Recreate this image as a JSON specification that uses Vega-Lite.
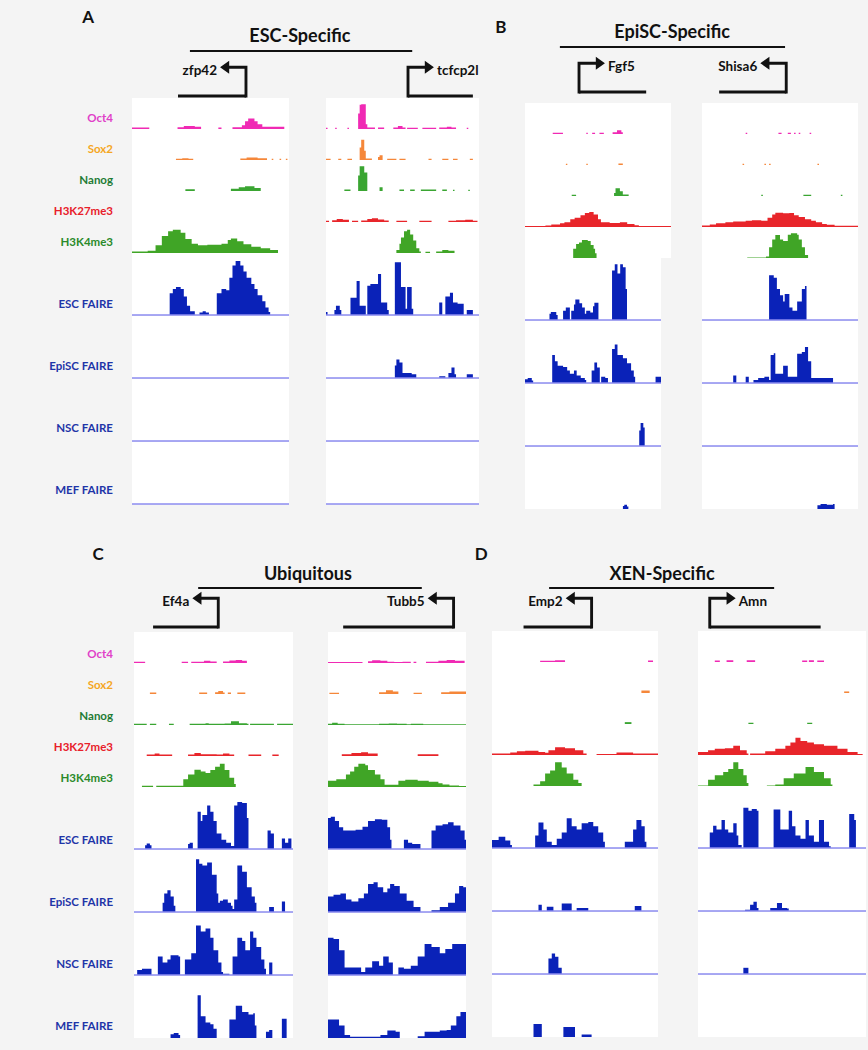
{
"$schema": "https://vega.github.io/schema/vega-lite/v6.json",
"background": "#f4f4f4",
"padding": {"left": 0, "top": 0, "right": 10, "bottom": 26},
"config": {"view": {"stroke": null}, "axis": {"disable": true}, "legend": {"disable": true}, "text": {"font": "Lato", "fontWeight": "bold", "color": "#111111"}, "concat": {"spacing": 0}, "facet": {"spacing": 0}},
"datasets": {
"labels": [{"t":"Oct4","name":"Oct4","grp":"chip"},{"t":"Sox2","name":"Sox2","grp":"chip"},{"t":"Nanog","name":"Nanog","grp":"chip"},{"t":"K27","name":"H3K27me3","grp":"chip"},{"t":"K4","name":"H3K4me3","grp":"chip"},{"t":"E","name":"ESC FAIRE","grp":"faire"},{"t":"Ep","name":"EpiSC FAIRE","grp":"faire"},{"t":"N","name":"NSC FAIRE","grp":"faire"},{"t":"M","name":"MEF FAIRE","grp":"faire"}],
"genes": [{"g":"zfp42","tss":72.6,"far":29.3,"str":"-"},{"g":"tcfcp2l","tss":53.6,"far":96,"str":"+"},{"g":"Fgf5","tss":37,"far":83,"str":"+"},{"g":"Shisa6","tss":54,"far":11,"str":"-"},{"g":"Ef4a","tss":53,"far":12,"str":"-"},{"g":"Tubb5","tss":91,"far":11,"str":"-"},{"g":"Emp2","tss":60,"far":19,"str":"-"},{"g":"Amn","tss":7,"far":73,"str":"+"}],
"zfp42": [
{"t":"Oct4","x":0,"v":0.05},{"t":"Oct4","x":11,"v":0},{"t":"Oct4","x":29,"v":0.06},{"t":"Oct4","x":33,"v":0.1},{"t":"Oct4","x":40,"v":0.07},{"t":"Oct4","x":44,"v":0},{"t":"Oct4","x":55,"v":0.05},{"t":"Oct4","x":57,"v":0},{"t":"Oct4","x":64,"v":0.06},{"t":"Oct4","x":70,"v":0.12},{"t":"Oct4","x":72,"v":0.25},{"t":"Oct4","x":74,"v":0.34},{"t":"Oct4","x":78,"v":0.25},{"t":"Oct4","x":80,"v":0.15},{"t":"Oct4","x":83,"v":0.07},{"t":"Oct4","x":97,"v":0},
{"t":"Sox2","x":28,"v":0.04},{"t":"Sox2","x":32,"v":0.06},{"t":"Sox2","x":36,"v":0.04},{"t":"Sox2","x":39,"v":0},{"t":"Sox2","x":69,"v":0.05},{"t":"Sox2","x":73,"v":0.08},{"t":"Sox2","x":80,"v":0.06},{"t":"Sox2","x":86,"v":0},{"t":"Sox2","x":89,"v":0.04},{"t":"Sox2","x":90,"v":0},{"t":"Sox2","x":94,"v":0.04},{"t":"Sox2","x":95,"v":0},{"t":"Sox2","x":98,"v":0.04},{"t":"Sox2","x":99,"v":0},
{"t":"Nanog","x":34,"v":0.06},{"t":"Nanog","x":40,"v":0},{"t":"Nanog","x":63,"v":0.07},{"t":"Nanog","x":68,"v":0.12},{"t":"Nanog","x":72,"v":0.15},{"t":"Nanog","x":78,"v":0.1},{"t":"Nanog","x":82,"v":0},
{"t":"K27","x":0,"v":0},
{"t":"K4","x":0,"v":0.05},{"t":"K4","x":10,"v":0.07},{"t":"K4","x":15,"v":0.25},{"t":"K4","x":19,"v":0.55},{"t":"K4","x":23,"v":0.7},{"t":"K4","x":26,"v":0.75},{"t":"K4","x":31,"v":0.65},{"t":"K4","x":34,"v":0.45},{"t":"K4","x":38,"v":0.3},{"t":"K4","x":42,"v":0.25},{"t":"K4","x":48,"v":0.27},{"t":"K4","x":57,"v":0.3},{"t":"K4","x":61,"v":0.42},{"t":"K4","x":63,"v":0.47},{"t":"K4","x":67,"v":0.38},{"t":"K4","x":71,"v":0.28},{"t":"K4","x":76,"v":0.2},{"t":"K4","x":82,"v":0.15},{"t":"K4","x":88,"v":0.1},{"t":"K4","x":93,"v":0},
{"t":"E","x":24,"v":0.35},{"t":"E","x":26,"v":0.42},{"t":"E","x":28,"v":0.45},{"t":"E","x":31,"v":0.42},{"t":"E","x":33,"v":0.3},{"t":"E","x":35,"v":0.15},{"t":"E","x":37,"v":0.06},{"t":"E","x":40,"v":0},{"t":"E","x":43,"v":0.04},{"t":"E","x":45,"v":0.06},{"t":"E","x":47,"v":0.04},{"t":"E","x":49,"v":0},{"t":"E","x":54,"v":0.35},{"t":"E","x":57,"v":0.42},{"t":"E","x":60,"v":0.4},{"t":"E","x":62,"v":0.6},{"t":"E","x":64,"v":0.8},{"t":"E","x":66,"v":0.87},{"t":"E","x":69,"v":0.8},{"t":"E","x":71,"v":0.7},{"t":"E","x":73,"v":0.6},{"t":"E","x":76,"v":0.5},{"t":"E","x":78,"v":0.42},{"t":"E","x":80,"v":0.32},{"t":"E","x":83,"v":0.22},{"t":"E","x":85,"v":0.12},{"t":"E","x":87,"v":0.05},{"t":"E","x":88,"v":0},
{"t":"E","b":1},{"t":"Ep","b":1},{"t":"N","b":1},{"t":"M","b":1}
],
"tcfcp2l": [
{"t":"Oct4","x":0,"v":0.04},{"t":"Oct4","x":1,"v":0},{"t":"Oct4","x":6,"v":0.04},{"t":"Oct4","x":7,"v":0},{"t":"Oct4","x":14,"v":0.04},{"t":"Oct4","x":15,"v":0},{"t":"Oct4","x":21,"v":0.5},{"t":"Oct4","x":22,"v":0.78},{"t":"Oct4","x":23,"v":0.8},{"t":"Oct4","x":26,"v":0.15},{"t":"Oct4","x":27,"v":0.05},{"t":"Oct4","x":32,"v":0},{"t":"Oct4","x":34,"v":0.05},{"t":"Oct4","x":38,"v":0},{"t":"Oct4","x":44,"v":0.05},{"t":"Oct4","x":47,"v":0.1},{"t":"Oct4","x":50,"v":0.05},{"t":"Oct4","x":52,"v":0},{"t":"Oct4","x":53,"v":0.04},{"t":"Oct4","x":60,"v":0},{"t":"Oct4","x":63,"v":0.04},{"t":"Oct4","x":72,"v":0},{"t":"Oct4","x":74,"v":0.05},{"t":"Oct4","x":79,"v":0.07},{"t":"Oct4","x":82,"v":0.05},{"t":"Oct4","x":85,"v":0},{"t":"Oct4","x":92,"v":0.04},{"t":"Oct4","x":93,"v":0},
{"t":"Sox2","x":0,"v":0.04},{"t":"Sox2","x":3,"v":0},{"t":"Sox2","x":8,"v":0.04},{"t":"Sox2","x":10,"v":0},{"t":"Sox2","x":14,"v":0.04},{"t":"Sox2","x":17,"v":0},{"t":"Sox2","x":22,"v":0.4},{"t":"Sox2","x":23,"v":0.65},{"t":"Sox2","x":25,"v":0.3},{"t":"Sox2","x":26,"v":0.05},{"t":"Sox2","x":30,"v":0},{"t":"Sox2","x":34,"v":0.1},{"t":"Sox2","x":35,"v":0.15},{"t":"Sox2","x":37,"v":0},{"t":"Sox2","x":40,"v":0.04},{"t":"Sox2","x":46,"v":0},{"t":"Sox2","x":48,"v":0.04},{"t":"Sox2","x":52,"v":0},{"t":"Sox2","x":67,"v":0.04},{"t":"Sox2","x":69,"v":0},{"t":"Sox2","x":76,"v":0.04},{"t":"Sox2","x":80,"v":0},{"t":"Sox2","x":83,"v":0.04},{"t":"Sox2","x":86,"v":0},{"t":"Sox2","x":94,"v":0.04},{"t":"Sox2","x":96,"v":0},
{"t":"Nanog","x":12,"v":0.05},{"t":"Nanog","x":16,"v":0},{"t":"Nanog","x":21,"v":0.5},{"t":"Nanog","x":22,"v":0.8},{"t":"Nanog","x":25,"v":0.6},{"t":"Nanog","x":27,"v":0},{"t":"Nanog","x":35,"v":0.12},{"t":"Nanog","x":37,"v":0},{"t":"Nanog","x":48,"v":0.05},{"t":"Nanog","x":51,"v":0},{"t":"Nanog","x":55,"v":0.05},{"t":"Nanog","x":58,"v":0},{"t":"Nanog","x":62,"v":0.05},{"t":"Nanog","x":72,"v":0},{"t":"Nanog","x":76,"v":0.05},{"t":"Nanog","x":79,"v":0},{"t":"Nanog","x":83,"v":0.04},{"t":"Nanog","x":84,"v":0},{"t":"Nanog","x":93,"v":0.04},{"t":"Nanog","x":94,"v":0},
{"t":"K27","x":0,"v":0.04},{"t":"K27","x":2,"v":0},{"t":"K27","x":4,"v":0.06},{"t":"K27","x":7,"v":0.1},{"t":"K27","x":11,"v":0.07},{"t":"K27","x":15,"v":0},{"t":"K27","x":17,"v":0.04},{"t":"K27","x":21,"v":0},{"t":"K27","x":23,"v":0.05},{"t":"K27","x":27,"v":0.1},{"t":"K27","x":30,"v":0.12},{"t":"K27","x":34,"v":0.08},{"t":"K27","x":38,"v":0.05},{"t":"K27","x":41,"v":0},{"t":"K27","x":46,"v":0.04},{"t":"K27","x":53,"v":0},{"t":"K27","x":61,"v":0.04},{"t":"K27","x":69,"v":0},{"t":"K27","x":80,"v":0.04},{"t":"K27","x":85,"v":0.06},{"t":"K27","x":91,"v":0.07},{"t":"K27","x":96,"v":0.04},{"t":"K27","x":99,"v":0},
{"t":"K4","x":46,"v":0.1},{"t":"K4","x":48,"v":0.3},{"t":"K4","x":49,"v":0.5},{"t":"K4","x":51,"v":0.7},{"t":"K4","x":53,"v":0.75},{"t":"K4","x":55,"v":0.6},{"t":"K4","x":57,"v":0.4},{"t":"K4","x":59,"v":0.15},{"t":"K4","x":61,"v":0.05},{"t":"K4","x":62,"v":0},{"t":"K4","x":65,"v":0.04},{"t":"K4","x":68,"v":0},{"t":"K4","x":72,"v":0.05},{"t":"K4","x":76,"v":0.1},{"t":"K4","x":80,"v":0.07},{"t":"K4","x":84,"v":0},
{"t":"E","x":0,"v":0.05},{"t":"E","x":1,"v":0},{"t":"E","x":5.5,"v":0.08},{"t":"E","x":6.5,"v":0.15},{"t":"E","x":9,"v":0.08},{"t":"E","x":10,"v":0},{"t":"E","x":16,"v":0.28},{"t":"E","x":20,"v":0.55},{"t":"E","x":22,"v":0.15},{"t":"E","x":26,"v":0},{"t":"E","x":27,"v":0.47},{"t":"E","x":29,"v":0.5},{"t":"E","x":34,"v":0.66},{"t":"E","x":36,"v":0.2},{"t":"E","x":40,"v":0.08},{"t":"E","x":41,"v":0},{"t":"E","x":45,"v":0.85},{"t":"E","x":49,"v":0.45},{"t":"E","x":52,"v":0.1},{"t":"E","x":53,"v":0.45},{"t":"E","x":56,"v":0.1},{"t":"E","x":57,"v":0},{"t":"E","x":74,"v":0.2},{"t":"E","x":76,"v":0},{"t":"E","x":78,"v":0.3},{"t":"E","x":81,"v":0.36},{"t":"E","x":83,"v":0.2},{"t":"E","x":86,"v":0.18},{"t":"E","x":90,"v":0},{"t":"E","x":92,"v":0.08},{"t":"E","x":96,"v":0},
{"t":"Ep","x":45,"v":0.2},{"t":"Ep","x":46,"v":0.3},{"t":"Ep","x":48,"v":0.25},{"t":"Ep","x":50,"v":0.08},{"t":"Ep","x":56,"v":0.06},{"t":"Ep","x":59,"v":0},{"t":"Ep","x":74,"v":0.03},{"t":"Ep","x":78,"v":0},{"t":"Ep","x":80,"v":0.08},{"t":"Ep","x":82,"v":0.17},{"t":"Ep","x":84,"v":0.06},{"t":"Ep","x":85,"v":0},{"t":"Ep","x":92,"v":0.06},{"t":"Ep","x":96,"v":0},
{"t":"E","b":1},{"t":"Ep","b":1},{"t":"N","b":1},{"t":"M","b":1}
],
"Fgf5": [
{"t":"Oct4","x":19,"v":0.04},{"t":"Oct4","x":26,"v":0},{"t":"Oct4","x":42,"v":0.04},{"t":"Oct4","x":43,"v":0},{"t":"Oct4","x":46,"v":0.04},{"t":"Oct4","x":48,"v":0},{"t":"Oct4","x":51,"v":0.04},{"t":"Oct4","x":54,"v":0},{"t":"Oct4","x":60,"v":0.06},{"t":"Oct4","x":63,"v":0.12},{"t":"Oct4","x":66,"v":0.06},{"t":"Oct4","x":67,"v":0},
{"t":"Sox2","x":28,"v":0.04},{"t":"Sox2","x":29,"v":0},{"t":"Sox2","x":42,"v":0.04},{"t":"Sox2","x":43,"v":0},{"t":"Sox2","x":64,"v":0.05},{"t":"Sox2","x":67,"v":0},
{"t":"Nanog","x":32,"v":0.04},{"t":"Nanog","x":35,"v":0},{"t":"Nanog","x":61,"v":0.1},{"t":"Nanog","x":62,"v":0.25},{"t":"Nanog","x":65,"v":0.15},{"t":"Nanog","x":67,"v":0.05},{"t":"Nanog","x":71,"v":0},
{"t":"K27","x":0,"v":0.03},{"t":"K27","x":14,"v":0.05},{"t":"K27","x":18,"v":0.08},{"t":"K27","x":24,"v":0.12},{"t":"K27","x":27,"v":0.15},{"t":"K27","x":31,"v":0.25},{"t":"K27","x":34,"v":0.3},{"t":"K27","x":38,"v":0.38},{"t":"K27","x":41,"v":0.45},{"t":"K27","x":44,"v":0.48},{"t":"K27","x":47,"v":0.4},{"t":"K27","x":50,"v":0.25},{"t":"K27","x":52,"v":0.15},{"t":"K27","x":58,"v":0.13},{"t":"K27","x":65,"v":0.15},{"t":"K27","x":70,"v":0.1},{"t":"K27","x":75,"v":0.06},{"t":"K27","x":78,"v":0.03},{"t":"K27","x":100,"v":0},
{"t":"K4","x":33,"v":0.3},{"t":"K4","x":35,"v":0.45},{"t":"K4","x":37,"v":0.5},{"t":"K4","x":39,"v":0.58},{"t":"K4","x":43,"v":0.55},{"t":"K4","x":45,"v":0.42},{"t":"K4","x":47,"v":0.3},{"t":"K4","x":48,"v":0.15},{"t":"K4","x":49,"v":0},
{"t":"E","x":18,"v":0.1},{"t":"E","x":19,"v":0.13},{"t":"E","x":23,"v":0.08},{"t":"E","x":24,"v":0},{"t":"E","x":28,"v":0.15},{"t":"E","x":30,"v":0.2},{"t":"E","x":33,"v":0},{"t":"E","x":34,"v":0.15},{"t":"E","x":36,"v":0.25},{"t":"E","x":37,"v":0.33},{"t":"E","x":40,"v":0.27},{"t":"E","x":42,"v":0.2},{"t":"E","x":44,"v":0.1},{"t":"E","x":45,"v":0.15},{"t":"E","x":48,"v":0.12},{"t":"E","x":50,"v":0.22},{"t":"E","x":51,"v":0.28},{"t":"E","x":54,"v":0},{"t":"E","x":64,"v":0.8},{"t":"E","x":66,"v":0.9},{"t":"E","x":68,"v":0.75},{"t":"E","x":70,"v":0.9},{"t":"E","x":72,"v":0.85},{"t":"E","x":74,"v":0.5},{"t":"E","x":75,"v":0},
{"t":"Ep","x":0,"v":0.06},{"t":"Ep","x":2,"v":0.08},{"t":"Ep","x":5,"v":0.04},{"t":"Ep","x":6,"v":0},{"t":"Ep","x":20,"v":0.45},{"t":"Ep","x":22,"v":0.35},{"t":"Ep","x":24,"v":0.28},{"t":"Ep","x":28,"v":0.26},{"t":"Ep","x":31,"v":0.2},{"t":"Ep","x":33,"v":0.15},{"t":"Ep","x":36,"v":0.2},{"t":"Ep","x":38,"v":0.12},{"t":"Ep","x":41,"v":0.08},{"t":"Ep","x":44,"v":0.05},{"t":"Ep","x":45,"v":0},{"t":"Ep","x":49,"v":0.2},{"t":"Ep","x":51,"v":0.33},{"t":"Ep","x":53,"v":0.25},{"t":"Ep","x":55,"v":0},{"t":"Ep","x":56,"v":0.1},{"t":"Ep","x":59,"v":0.08},{"t":"Ep","x":61,"v":0},{"t":"Ep","x":64,"v":0.55},{"t":"Ep","x":66,"v":0.62},{"t":"Ep","x":68,"v":0.45},{"t":"Ep","x":72,"v":0.4},{"t":"Ep","x":75,"v":0.32},{"t":"Ep","x":78,"v":0.2},{"t":"Ep","x":80,"v":0.1},{"t":"Ep","x":81,"v":0},{"t":"Ep","x":96,"v":0.1},{"t":"Ep","x":100,"v":0},
{"t":"N","x":84,"v":0.25},{"t":"N","x":85,"v":0.37},{"t":"N","x":87,"v":0.3},{"t":"N","x":88,"v":0},
{"t":"M","x":72,"v":0.05},{"t":"M","x":73,"v":0.07},{"t":"M","x":75,"v":0.04},{"t":"M","x":76,"v":0},
{"t":"E","b":1},{"t":"Ep","b":1},{"t":"N","b":1}
],
"Shisa6": [
{"t":"Oct4","x":28,"v":0.04},{"t":"Oct4","x":29,"v":0},{"t":"Oct4","x":49,"v":0.04},{"t":"Oct4","x":51,"v":0},{"t":"Oct4","x":55,"v":0.04},{"t":"Oct4","x":57,"v":0},{"t":"Oct4","x":59,"v":0.04},{"t":"Oct4","x":60,"v":0},{"t":"Oct4","x":62,"v":0.04},{"t":"Oct4","x":63,"v":0},{"t":"Oct4","x":69,"v":0.04},{"t":"Oct4","x":70,"v":0},
{"t":"Sox2","x":26,"v":0.04},{"t":"Sox2","x":27,"v":0},{"t":"Sox2","x":40,"v":0.04},{"t":"Sox2","x":41,"v":0},{"t":"Sox2","x":43,"v":0.04},{"t":"Sox2","x":44,"v":0},{"t":"Sox2","x":74,"v":0.04},{"t":"Sox2","x":75,"v":0},
{"t":"Nanog","x":38,"v":0.04},{"t":"Nanog","x":39,"v":0},{"t":"Nanog","x":65,"v":0.04},{"t":"Nanog","x":70,"v":0},{"t":"Nanog","x":89,"v":0.04},{"t":"Nanog","x":90,"v":0},
{"t":"K27","x":0,"v":0.05},{"t":"K27","x":5,"v":0.08},{"t":"K27","x":9,"v":0.12},{"t":"K27","x":15,"v":0.15},{"t":"K27","x":20,"v":0.18},{"t":"K27","x":28,"v":0.2},{"t":"K27","x":32,"v":0.22},{"t":"K27","x":38,"v":0.2},{"t":"K27","x":42,"v":0.3},{"t":"K27","x":45,"v":0.4},{"t":"K27","x":47,"v":0.46},{"t":"K27","x":52,"v":0.44},{"t":"K27","x":56,"v":0.45},{"t":"K27","x":59,"v":0.38},{"t":"K27","x":62,"v":0.32},{"t":"K27","x":66,"v":0.25},{"t":"K27","x":70,"v":0.2},{"t":"K27","x":73,"v":0.15},{"t":"K27","x":77,"v":0.1},{"t":"K27","x":80,"v":0.07},{"t":"K27","x":85,"v":0.04},{"t":"K27","x":100,"v":0},
{"t":"K4","x":29,"v":0.02},{"t":"K4","x":41,"v":0.05},{"t":"K4","x":43,"v":0.35},{"t":"K4","x":45,"v":0.6},{"t":"K4","x":47,"v":0.74},{"t":"K4","x":50,"v":0.6},{"t":"K4","x":52,"v":0.55},{"t":"K4","x":55,"v":0.75},{"t":"K4","x":57,"v":0.8},{"t":"K4","x":61,"v":0.75},{"t":"K4","x":62,"v":0.6},{"t":"K4","x":64,"v":0.35},{"t":"K4","x":66,"v":0.1},{"t":"K4","x":68,"v":0},
{"t":"E","x":43,"v":0.72},{"t":"E","x":46,"v":0.68},{"t":"E","x":48,"v":0.5},{"t":"E","x":50,"v":0.4},{"t":"E","x":52,"v":0.3},{"t":"E","x":53,"v":0.42},{"t":"E","x":56,"v":0.2},{"t":"E","x":58,"v":0.15},{"t":"E","x":61,"v":0.3},{"t":"E","x":64,"v":0.5},{"t":"E","x":66,"v":0.55},{"t":"E","x":67,"v":0},
{"t":"Ep","x":20,"v":0.12},{"t":"Ep","x":22,"v":0},{"t":"Ep","x":28,"v":0.1},{"t":"Ep","x":30,"v":0},{"t":"Ep","x":33,"v":0.05},{"t":"Ep","x":36,"v":0.08},{"t":"Ep","x":40,"v":0.1},{"t":"Ep","x":43,"v":0.05},{"t":"Ep","x":44,"v":0.45},{"t":"Ep","x":46,"v":0.48},{"t":"Ep","x":47,"v":0.15},{"t":"Ep","x":52,"v":0.28},{"t":"Ep","x":55,"v":0.1},{"t":"Ep","x":61,"v":0.47},{"t":"Ep","x":64,"v":0.5},{"t":"Ep","x":66,"v":0.58},{"t":"Ep","x":68,"v":0.35},{"t":"Ep","x":70,"v":0.08},{"t":"Ep","x":84,"v":0},
{"t":"M","x":74,"v":0.06},{"t":"M","x":76,"v":0.08},{"t":"M","x":80,"v":0.07},{"t":"M","x":84,"v":0.08},{"t":"M","x":85,"v":0},
{"t":"E","b":1},{"t":"Ep","b":1},{"t":"N","b":1}
],
"Ef4a": [
{"t":"Oct4","x":0,"v":0.04},{"t":"Oct4","x":7,"v":0},{"t":"Oct4","x":30,"v":0.04},{"t":"Oct4","x":34,"v":0},{"t":"Oct4","x":36,"v":0.04},{"t":"Oct4","x":44,"v":0.07},{"t":"Oct4","x":48,"v":0.05},{"t":"Oct4","x":52,"v":0},{"t":"Oct4","x":56,"v":0.05},{"t":"Oct4","x":60,"v":0.08},{"t":"Oct4","x":64,"v":0.1},{"t":"Oct4","x":68,"v":0.07},{"t":"Oct4","x":71,"v":0},
{"t":"Sox2","x":10,"v":0.05},{"t":"Sox2","x":14,"v":0},{"t":"Sox2","x":41,"v":0.05},{"t":"Sox2","x":46,"v":0},{"t":"Sox2","x":51,"v":0.06},{"t":"Sox2","x":53,"v":0.1},{"t":"Sox2","x":56,"v":0.05},{"t":"Sox2","x":57,"v":0},{"t":"Sox2","x":59,"v":0.05},{"t":"Sox2","x":61,"v":0},{"t":"Sox2","x":65,"v":0.05},{"t":"Sox2","x":70,"v":0},
{"t":"Nanog","x":0,"v":0.04},{"t":"Nanog","x":8,"v":0},{"t":"Nanog","x":10,"v":0.04},{"t":"Nanog","x":14,"v":0},{"t":"Nanog","x":22,"v":0.04},{"t":"Nanog","x":25,"v":0},{"t":"Nanog","x":35,"v":0.04},{"t":"Nanog","x":45,"v":0.06},{"t":"Nanog","x":47,"v":0.04},{"t":"Nanog","x":57,"v":0.05},{"t":"Nanog","x":61,"v":0.12},{"t":"Nanog","x":66,"v":0.06},{"t":"Nanog","x":71,"v":0.04},{"t":"Nanog","x":72,"v":0},{"t":"Nanog","x":73,"v":0.04},{"t":"Nanog","x":88,"v":0},{"t":"Nanog","x":90,"v":0.04},{"t":"Nanog","x":100,"v":0},
{"t":"K27","x":8,"v":0.05},{"t":"K27","x":13,"v":0.08},{"t":"K27","x":16,"v":0.05},{"t":"K27","x":24,"v":0},{"t":"K27","x":34,"v":0.05},{"t":"K27","x":38,"v":0.1},{"t":"K27","x":42,"v":0.06},{"t":"K27","x":52,"v":0.05},{"t":"K27","x":56,"v":0.08},{"t":"K27","x":60,"v":0.05},{"t":"K27","x":63,"v":0},{"t":"K27","x":72,"v":0.05},{"t":"K27","x":80,"v":0},{"t":"K27","x":87,"v":0.05},{"t":"K27","x":91,"v":0},
{"t":"K4","x":5,"v":0.04},{"t":"K4","x":12,"v":0},{"t":"K4","x":14,"v":0.04},{"t":"K4","x":31,"v":0.25},{"t":"K4","x":34,"v":0.4},{"t":"K4","x":38,"v":0.56},{"t":"K4","x":42,"v":0.5},{"t":"K4","x":45,"v":0.45},{"t":"K4","x":48,"v":0.55},{"t":"K4","x":51,"v":0.65},{"t":"K4","x":54,"v":0.75},{"t":"K4","x":57,"v":0.55},{"t":"K4","x":60,"v":0.3},{"t":"K4","x":63,"v":0.1},{"t":"K4","x":64,"v":0},
{"t":"E","x":7,"v":0.06},{"t":"E","x":8,"v":0.09},{"t":"E","x":10,"v":0.06},{"t":"E","x":11,"v":0},{"t":"E","x":34,"v":0.08},{"t":"E","x":35,"v":0.1},{"t":"E","x":37,"v":0},{"t":"E","x":40,"v":0.6},{"t":"E","x":42,"v":0.45},{"t":"E","x":43,"v":0.55},{"t":"E","x":46,"v":0.7},{"t":"E","x":48,"v":0.6},{"t":"E","x":50,"v":0.45},{"t":"E","x":52,"v":0.25},{"t":"E","x":55,"v":0.15},{"t":"E","x":58,"v":0.1},{"t":"E","x":61,"v":0.05},{"t":"E","x":63,"v":0.7},{"t":"E","x":65,"v":0.76},{"t":"E","x":68,"v":0.74},{"t":"E","x":71,"v":0.5},{"t":"E","x":72,"v":0},{"t":"E","x":84,"v":0.3},{"t":"E","x":86,"v":0.25},{"t":"E","x":88,"v":0},{"t":"E","x":93,"v":0.17},{"t":"E","x":95,"v":0.1},{"t":"E","x":97,"v":0.17},{"t":"E","x":99,"v":0},
{"t":"Ep","x":18,"v":0.15},{"t":"Ep","x":19,"v":0.3},{"t":"Ep","x":21,"v":0.35},{"t":"Ep","x":23,"v":0.25},{"t":"Ep","x":25,"v":0.1},{"t":"Ep","x":26,"v":0},{"t":"Ep","x":39,"v":0.85},{"t":"Ep","x":41,"v":0.78},{"t":"Ep","x":43,"v":0.75},{"t":"Ep","x":46,"v":0.8},{"t":"Ep","x":49,"v":0.6},{"t":"Ep","x":52,"v":0.3},{"t":"Ep","x":53,"v":0.15},{"t":"Ep","x":54,"v":0.18},{"t":"Ep","x":56,"v":0.2},{"t":"Ep","x":59,"v":0.15},{"t":"Ep","x":61,"v":0.1},{"t":"Ep","x":62,"v":0.05},{"t":"Ep","x":63,"v":0.2},{"t":"Ep","x":65,"v":0.75},{"t":"Ep","x":68,"v":0.65},{"t":"Ep","x":71,"v":0.4},{"t":"Ep","x":74,"v":0.25},{"t":"Ep","x":76,"v":0.15},{"t":"Ep","x":77,"v":0},{"t":"Ep","x":85,"v":0.08},{"t":"Ep","x":88,"v":0},{"t":"Ep","x":93,"v":0.17},{"t":"Ep","x":95,"v":0},
{"t":"N","x":2,"v":0.08},{"t":"N","x":5,"v":0.1},{"t":"N","x":11,"v":0},{"t":"N","x":15,"v":0.3},{"t":"N","x":18,"v":0.2},{"t":"N","x":21,"v":0.25},{"t":"N","x":23,"v":0.32},{"t":"N","x":28,"v":0.3},{"t":"N","x":29,"v":0},{"t":"N","x":32,"v":0.25},{"t":"N","x":36,"v":0.35},{"t":"N","x":39,"v":0.8},{"t":"N","x":42,"v":0.7},{"t":"N","x":45,"v":0.75},{"t":"N","x":48,"v":0.6},{"t":"N","x":50,"v":0.4},{"t":"N","x":53,"v":0.2},{"t":"N","x":55,"v":0.05},{"t":"N","x":56,"v":0.02},{"t":"N","x":60,"v":0},{"t":"N","x":62,"v":0.3},{"t":"N","x":65,"v":0.6},{"t":"N","x":68,"v":0.55},{"t":"N","x":70,"v":0.4},{"t":"N","x":73,"v":0.7},{"t":"N","x":75,"v":0.6},{"t":"N","x":77,"v":0.45},{"t":"N","x":80,"v":0.25},{"t":"N","x":82,"v":0.1},{"t":"N","x":83,"v":0},{"t":"N","x":85,"v":0.2},{"t":"N","x":87,"v":0},
{"t":"M","x":23,"v":0.06},{"t":"M","x":25,"v":0.08},{"t":"M","x":28,"v":0.05},{"t":"M","x":29,"v":0},{"t":"M","x":40,"v":0.69},{"t":"M","x":42,"v":0.35},{"t":"M","x":45,"v":0.25},{"t":"M","x":48,"v":0.22},{"t":"M","x":50,"v":0.15},{"t":"M","x":52,"v":0},{"t":"M","x":60,"v":0.3},{"t":"M","x":64,"v":0.52},{"t":"M","x":68,"v":0.42},{"t":"M","x":72,"v":0.38},{"t":"M","x":75,"v":0.4},{"t":"M","x":76,"v":0.2},{"t":"M","x":77,"v":0},{"t":"M","x":83,"v":0.1},{"t":"M","x":85,"v":0.13},{"t":"M","x":87,"v":0},{"t":"M","x":93,"v":0.31},{"t":"M","x":96,"v":0},
{"t":"E","b":1},{"t":"Ep","b":1},{"t":"N","b":1}
],
"Tubb5": [
{"t":"Oct4","x":0,"v":0.03},{"t":"Oct4","x":25,"v":0},{"t":"Oct4","x":29,"v":0.06},{"t":"Oct4","x":32,"v":0.09},{"t":"Oct4","x":38,"v":0.07},{"t":"Oct4","x":43,"v":0.04},{"t":"Oct4","x":48,"v":0.03},{"t":"Oct4","x":54,"v":0.04},{"t":"Oct4","x":60,"v":0},{"t":"Oct4","x":62,"v":0.04},{"t":"Oct4","x":64,"v":0},{"t":"Oct4","x":71,"v":0.04},{"t":"Oct4","x":80,"v":0.07},{"t":"Oct4","x":86,"v":0.1},{"t":"Oct4","x":92,"v":0.07},{"t":"Oct4","x":99,"v":0},
{"t":"Sox2","x":1,"v":0.04},{"t":"Sox2","x":8,"v":0},{"t":"Sox2","x":37,"v":0.06},{"t":"Sox2","x":42,"v":0.12},{"t":"Sox2","x":47,"v":0.08},{"t":"Sox2","x":51,"v":0},{"t":"Sox2","x":62,"v":0.04},{"t":"Sox2","x":68,"v":0},{"t":"Sox2","x":82,"v":0.06},{"t":"Sox2","x":88,"v":0.08},{"t":"Sox2","x":100,"v":0},
{"t":"Nanog","x":0,"v":0.04},{"t":"Nanog","x":3,"v":0.07},{"t":"Nanog","x":7,"v":0.04},{"t":"Nanog","x":12,"v":0.025},{"t":"Nanog","x":37,"v":0.04},{"t":"Nanog","x":44,"v":0.05},{"t":"Nanog","x":50,"v":0.04},{"t":"Nanog","x":57,"v":0.025},{"t":"Nanog","x":60,"v":0.04},{"t":"Nanog","x":69,"v":0.025},{"t":"Nanog","x":100,"v":0},
{"t":"K27","x":10,"v":0.06},{"t":"K27","x":17,"v":0.1},{"t":"K27","x":24,"v":0.12},{"t":"K27","x":29,"v":0.08},{"t":"K27","x":36,"v":0},{"t":"K27","x":65,"v":0.06},{"t":"K27","x":80,"v":0},
{"t":"K4","x":0,"v":0.2},{"t":"K4","x":6,"v":0.25},{"t":"K4","x":13,"v":0.4},{"t":"K4","x":16,"v":0.5},{"t":"K4","x":19,"v":0.65},{"t":"K4","x":22,"v":0.75},{"t":"K4","x":27,"v":0.7},{"t":"K4","x":29,"v":0.55},{"t":"K4","x":34,"v":0.4},{"t":"K4","x":38,"v":0.25},{"t":"K4","x":41,"v":0.07},{"t":"K4","x":51,"v":0.2},{"t":"K4","x":56,"v":0.23},{"t":"K4","x":65,"v":0.2},{"t":"K4","x":73,"v":0.17},{"t":"K4","x":80,"v":0.12},{"t":"K4","x":83,"v":0.08},{"t":"K4","x":88,"v":0.05},{"t":"K4","x":95,"v":0.03},{"t":"K4","x":100,"v":0},
{"t":"E","x":0,"v":0.5},{"t":"E","x":2,"v":0.52},{"t":"E","x":5,"v":0.45},{"t":"E","x":8,"v":0.35},{"t":"E","x":11,"v":0.3},{"t":"E","x":20,"v":0.31},{"t":"E","x":25,"v":0.36},{"t":"E","x":29,"v":0.45},{"t":"E","x":34,"v":0.48},{"t":"E","x":39,"v":0.47},{"t":"E","x":43,"v":0.35},{"t":"E","x":45,"v":0.15},{"t":"E","x":46,"v":0},{"t":"E","x":55,"v":0.15},{"t":"E","x":58,"v":0.1},{"t":"E","x":61,"v":0.08},{"t":"E","x":67,"v":0},{"t":"E","x":75,"v":0.3},{"t":"E","x":78,"v":0.38},{"t":"E","x":83,"v":0.4},{"t":"E","x":87,"v":0.43},{"t":"E","x":91,"v":0.38},{"t":"E","x":96,"v":0.3},{"t":"E","x":99,"v":0.15},{"t":"E","x":100,"v":0},
{"t":"Ep","x":0,"v":0.25},{"t":"Ep","x":4,"v":0.28},{"t":"Ep","x":9,"v":0.3},{"t":"Ep","x":13,"v":0.2},{"t":"Ep","x":17,"v":0.17},{"t":"Ep","x":22,"v":0.22},{"t":"Ep","x":26,"v":0.3},{"t":"Ep","x":29,"v":0.45},{"t":"Ep","x":33,"v":0.48},{"t":"Ep","x":36,"v":0.4},{"t":"Ep","x":40,"v":0.32},{"t":"Ep","x":43,"v":0.38},{"t":"Ep","x":45,"v":0.45},{"t":"Ep","x":48,"v":0.42},{"t":"Ep","x":52,"v":0.3},{"t":"Ep","x":57,"v":0.18},{"t":"Ep","x":62,"v":0.08},{"t":"Ep","x":67,"v":0},{"t":"Ep","x":75,"v":0.03},{"t":"Ep","x":81,"v":0.08},{"t":"Ep","x":87,"v":0.15},{"t":"Ep","x":92,"v":0.3},{"t":"Ep","x":95,"v":0.42},{"t":"Ep","x":98,"v":0.4},{"t":"Ep","x":100,"v":0},
{"t":"N","x":0,"v":0.6},{"t":"N","x":4,"v":0.58},{"t":"N","x":8,"v":0.4},{"t":"N","x":12,"v":0.12},{"t":"N","x":24,"v":0.05},{"t":"N","x":27,"v":0.12},{"t":"N","x":32,"v":0.22},{"t":"N","x":37,"v":0.15},{"t":"N","x":40,"v":0.3},{"t":"N","x":44,"v":0.2},{"t":"N","x":47,"v":0},{"t":"N","x":51,"v":0.12},{"t":"N","x":55,"v":0.1},{"t":"N","x":60,"v":0.15},{"t":"N","x":65,"v":0.3},{"t":"N","x":70,"v":0.5},{"t":"N","x":75,"v":0.45},{"t":"N","x":81,"v":0.35},{"t":"N","x":85,"v":0.42},{"t":"N","x":90,"v":0.5},{"t":"N","x":100,"v":0},
{"t":"M","x":0,"v":0.3},{"t":"M","x":5,"v":0.3},{"t":"M","x":8,"v":0.2},{"t":"M","x":12,"v":0.05},{"t":"M","x":16,"v":0.02},{"t":"M","x":38,"v":0.05},{"t":"M","x":43,"v":0.12},{"t":"M","x":49,"v":0.1},{"t":"M","x":52,"v":0},{"t":"M","x":65,"v":0.03},{"t":"M","x":70,"v":0.1},{"t":"M","x":75,"v":0.1},{"t":"M","x":81,"v":0.12},{"t":"M","x":86,"v":0.13},{"t":"M","x":89,"v":0.2},{"t":"M","x":93,"v":0.35},{"t":"M","x":96,"v":0.42},{"t":"M","x":100,"v":0},
{"t":"E","b":1},{"t":"Ep","b":1},{"t":"N","b":1}
],
"Emp2": [
{"t":"Oct4","x":29,"v":0.04},{"t":"Oct4","x":38,"v":0.06},{"t":"Oct4","x":44,"v":0},{"t":"Oct4","x":94,"v":0.05},{"t":"Oct4","x":97,"v":0},
{"t":"Sox2","x":90,"v":0.08},{"t":"Sox2","x":95,"v":0},
{"t":"Nanog","x":80,"v":0.06},{"t":"Nanog","x":84,"v":0},
{"t":"K27","x":0,"v":0.05},{"t":"K27","x":11,"v":0.08},{"t":"K27","x":15,"v":0.12},{"t":"K27","x":20,"v":0.14},{"t":"K27","x":28,"v":0.1},{"t":"K27","x":32,"v":0.07},{"t":"K27","x":34,"v":0.15},{"t":"K27","x":38,"v":0.25},{"t":"K27","x":44,"v":0.22},{"t":"K27","x":50,"v":0.15},{"t":"K27","x":55,"v":0.05},{"t":"K27","x":57,"v":0},{"t":"K27","x":63,"v":0.03},{"t":"K27","x":75,"v":0.08},{"t":"K27","x":85,"v":0.05},{"t":"K27","x":100,"v":0},
{"t":"K4","x":25,"v":0.05},{"t":"K4","x":29,"v":0.15},{"t":"K4","x":32,"v":0.4},{"t":"K4","x":35,"v":0.5},{"t":"K4","x":38,"v":0.77},{"t":"K4","x":42,"v":0.6},{"t":"K4","x":45,"v":0.4},{"t":"K4","x":49,"v":0.2},{"t":"K4","x":52,"v":0.1},{"t":"K4","x":54,"v":0},
{"t":"E","x":0,"v":0.13},{"t":"E","x":4,"v":0.18},{"t":"E","x":8,"v":0.12},{"t":"E","x":11,"v":0.05},{"t":"E","x":12,"v":0},{"t":"E","x":26,"v":0.2},{"t":"E","x":28,"v":0.41},{"t":"E","x":31,"v":0.3},{"t":"E","x":33,"v":0.1},{"t":"E","x":36,"v":0.05},{"t":"E","x":39,"v":0.15},{"t":"E","x":42,"v":0.25},{"t":"E","x":45,"v":0.48},{"t":"E","x":48,"v":0.35},{"t":"E","x":51,"v":0.3},{"t":"E","x":54,"v":0.4},{"t":"E","x":58,"v":0.42},{"t":"E","x":61,"v":0.35},{"t":"E","x":64,"v":0.25},{"t":"E","x":67,"v":0.1},{"t":"E","x":68,"v":0},{"t":"E","x":80,"v":0.1},{"t":"E","x":85,"v":0.3},{"t":"E","x":87,"v":0.45},{"t":"E","x":90,"v":0.35},{"t":"E","x":92,"v":0.1},{"t":"E","x":93,"v":0},
{"t":"Ep","x":28,"v":0.1},{"t":"Ep","x":30,"v":0},{"t":"Ep","x":33,"v":0.07},{"t":"Ep","x":37,"v":0},{"t":"Ep","x":42,"v":0.12},{"t":"Ep","x":48,"v":0},{"t":"Ep","x":51,"v":0.05},{"t":"Ep","x":58,"v":0},{"t":"Ep","x":86,"v":0.08},{"t":"Ep","x":90,"v":0},
{"t":"N","x":34,"v":0.25},{"t":"N","x":36,"v":0.33},{"t":"N","x":38,"v":0.28},{"t":"N","x":40,"v":0.1},{"t":"N","x":42,"v":0},
{"t":"M","x":25,"v":0.21},{"t":"M","x":30,"v":0},{"t":"M","x":43,"v":0.16},{"t":"M","x":50,"v":0},{"t":"M","x":54,"v":0.04},{"t":"M","x":60,"v":0},
{"t":"E","b":1},{"t":"Ep","b":1},{"t":"N","b":1}
],
"Amn": [
{"t":"Oct4","x":10,"v":0.05},{"t":"Oct4","x":13,"v":0},{"t":"Oct4","x":17,"v":0.06},{"t":"Oct4","x":21,"v":0},{"t":"Oct4","x":29,"v":0.06},{"t":"Oct4","x":34,"v":0},{"t":"Oct4","x":62,"v":0.05},{"t":"Oct4","x":65,"v":0},{"t":"Oct4","x":66,"v":0.06},{"t":"Oct4","x":69,"v":0},{"t":"Oct4","x":71,"v":0.05},{"t":"Oct4","x":75,"v":0},
{"t":"Sox2","x":87,"v":0.05},{"t":"Sox2","x":90,"v":0},
{"t":"Nanog","x":30,"v":0.04},{"t":"Nanog","x":33,"v":0},{"t":"Nanog","x":65,"v":0.04},{"t":"Nanog","x":68,"v":0},
{"t":"K27","x":0,"v":0.1},{"t":"K27","x":6,"v":0.15},{"t":"K27","x":10,"v":0.2},{"t":"K27","x":16,"v":0.22},{"t":"K27","x":21,"v":0.3},{"t":"K27","x":25,"v":0.15},{"t":"K27","x":29,"v":0.05},{"t":"K27","x":30,"v":0},{"t":"K27","x":31,"v":0.05},{"t":"K27","x":40,"v":0.12},{"t":"K27","x":46,"v":0.2},{"t":"K27","x":52,"v":0.3},{"t":"K27","x":55,"v":0.4},{"t":"K27","x":58,"v":0.56},{"t":"K27","x":61,"v":0.45},{"t":"K27","x":65,"v":0.4},{"t":"K27","x":69,"v":0.35},{"t":"K27","x":75,"v":0.3},{"t":"K27","x":83,"v":0.2},{"t":"K27","x":89,"v":0.1},{"t":"K27","x":95,"v":0.03},{"t":"K27","x":98,"v":0},
{"t":"K4","x":0,"v":0.02},{"t":"K4","x":6,"v":0.2},{"t":"K4","x":10,"v":0.35},{"t":"K4","x":15,"v":0.45},{"t":"K4","x":18,"v":0.55},{"t":"K4","x":21,"v":0.77},{"t":"K4","x":24,"v":0.55},{"t":"K4","x":27,"v":0.35},{"t":"K4","x":29,"v":0.1},{"t":"K4","x":30,"v":0},{"t":"K4","x":41,"v":0.02},{"t":"K4","x":46,"v":0.05},{"t":"K4","x":51,"v":0.25},{"t":"K4","x":57,"v":0.4},{"t":"K4","x":64,"v":0.61},{"t":"K4","x":69,"v":0.45},{"t":"K4","x":75,"v":0.25},{"t":"K4","x":79,"v":0.05},{"t":"K4","x":80,"v":0},
{"t":"E","x":7,"v":0.25},{"t":"E","x":9,"v":0.36},{"t":"E","x":11,"v":0.3},{"t":"E","x":14,"v":0.45},{"t":"E","x":16,"v":0.3},{"t":"E","x":18,"v":0.25},{"t":"E","x":21,"v":0.4},{"t":"E","x":23,"v":0.2},{"t":"E","x":24,"v":0.05},{"t":"E","x":26,"v":0},{"t":"E","x":27,"v":0.65},{"t":"E","x":30,"v":0.6},{"t":"E","x":32,"v":0.63},{"t":"E","x":35,"v":0.6},{"t":"E","x":36,"v":0},{"t":"E","x":45,"v":0.62},{"t":"E","x":49,"v":0.3},{"t":"E","x":54,"v":0.6},{"t":"E","x":56,"v":0.35},{"t":"E","x":58,"v":0.2},{"t":"E","x":61,"v":0.15},{"t":"E","x":64,"v":0.45},{"t":"E","x":66,"v":0.2},{"t":"E","x":69,"v":0.1},{"t":"E","x":72,"v":0.45},{"t":"E","x":75,"v":0.1},{"t":"E","x":78,"v":0.03},{"t":"E","x":79,"v":0},{"t":"E","x":90,"v":0.55},{"t":"E","x":93,"v":0.45},{"t":"E","x":94,"v":0},
{"t":"Ep","x":28,"v":0.02},{"t":"Ep","x":31,"v":0.1},{"t":"Ep","x":33,"v":0.15},{"t":"Ep","x":35,"v":0.05},{"t":"Ep","x":36,"v":0},{"t":"Ep","x":43,"v":0.05},{"t":"Ep","x":47,"v":0.13},{"t":"Ep","x":50,"v":0.05},{"t":"Ep","x":53,"v":0.04},{"t":"Ep","x":54,"v":0},
{"t":"N","x":27,"v":0.1},{"t":"N","x":30,"v":0},
{"t":"M","x":0,"v":0},
{"t":"E","b":1},{"t":"Ep","b":1},{"t":"N","b":1}
]
},
"vconcat": [
{"hconcat": [
 {"vconcat": [
  {"width": 476, "height": 56, "data": {"values": [{"letter": "A", "title": "ESC-Specific"}]},
   "layer": [
    {"mark": {"type": "text", "fontSize": 17}, "encoding": {"x": {"datum": 18.5, "type": "quantitative", "scale": {"domain": [0, 100], "nice": false, "zero": false}}, "y": {"datum": 0.68, "type": "quantitative", "scale": {"domain": [0, 1], "nice": false, "zero": false}}, "text": {"field": "letter"}}},
    {"mark": {"type": "text", "fontSize": 18}, "encoding": {"x": {"datum": 63, "type": "quantitative", "scale": {"domain": [0, 100], "nice": false, "zero": false}}, "y": {"datum": 0.34, "type": "quantitative", "scale": {"domain": [0, 1], "nice": false, "zero": false}}, "text": {"field": "title"}}},
    {"mark": {"type": "rule", "strokeWidth": 2, "color": "#111111"}, "encoding": {"x": {"datum": 39.9, "type": "quantitative", "scale": {"domain": [0, 100], "nice": false, "zero": false}}, "x2": {"datum": 86.6}, "y": {"datum": 0.09, "type": "quantitative", "scale": {"domain": [0, 1], "nice": false, "zero": false}}}}
   ]},
  {"hconcat": [
   {"vconcat": [
    {"width": 113, "height": 40, "data": {"values": [{}]}, "mark": {"type": "text", "text": ""}},
    {"width": 113, "height": 155, "data": {"name": "labels"}, "transform": [{"filter": "datum.grp == 'chip'"}], "mark": {"type": "text", "align": "right", "dy": 7, "fontSize": 11.5}, "encoding": {"x": {"datum": 1, "type": "quantitative", "scale": {"domain": [0, 1], "nice": false, "zero": false}}, "y": {"field": "t", "type": "nominal", "sort": ["Oct4","Sox2","Nanog","K27","K4"]}, "text": {"field": "name"}, "fill": {"field": "t", "type": "nominal", "scale": {"domain": ["Oct4","Sox2","Nanog","K27","K4","E","Ep","N","M"], "range": ["#e040c8","#f5a623","#1e7b34","#e8202a","#2a8a2a","#1f35a8","#1f35a8","#1f35a8","#1f35a8"]}, "legend": null}}},
    {"width": 113, "height": 248, "data": {"name": "labels"}, "transform": [{"filter": "datum.grp == 'faire'"}], "mark": {"type": "text", "align": "right", "dy": 23, "fontSize": 11.5}, "encoding": {"x": {"datum": 1, "type": "quantitative", "scale": {"domain": [0, 1], "nice": false, "zero": false}}, "y": {"field": "t", "type": "nominal", "sort": ["E","Ep","N","M"]}, "text": {"field": "name"}, "fill": {"field": "t", "type": "nominal", "scale": {"domain": ["Oct4","Sox2","Nanog","K27","K4","E","Ep","N","M"], "range": ["#e040c8","#f5a623","#1e7b34","#e8202a","#2a8a2a","#1f35a8","#1f35a8","#1f35a8","#1f35a8"]}, "legend": null}}}
   ], "spacing": 0},
   {"hconcat": [
    {"vconcat": [
     {"width": 157, "height": 40, "data": {"name": "genes"}, "transform": [{"filter": "datum.g == 'zfp42'"}],
      "encoding": {"x": {"field": "tss", "type": "quantitative", "scale": {"domain": [0, 100], "nice": false, "zero": false}}, "y": {"datum": 0, "type": "quantitative", "scale": {"domain": [0, 1], "nice": false, "zero": false}}},
      "layer": [
       {"mark": {"type": "rule", "strokeWidth": 3, "color": "#111111"}, "encoding": {"x2": {"field": "far"}}},
       {"transform": [{"filter": "datum.str == '-'"}], "mark": {"type": "point", "shape": "M0.06,0.06L0.06,-1.26L-0.72,-1.26L-0.72,-1.14L-0.06,-1.14L-0.06,0.06ZM-0.7,-1.47L-1.08,-1.2L-0.7,-0.93Z", "size": 2304, "filled": true, "opacity": 1, "color": "#111111", "strokeWidth": 0}},
       {"transform": [{"filter": "datum.str == '+'"}], "mark": {"type": "point", "shape": "M-0.06,0.06L-0.06,-1.26L0.72,-1.26L0.72,-1.14L0.06,-1.14L0.06,0.06ZM0.7,-1.47L1.08,-1.2L0.7,-0.93Z", "size": 2304, "filled": true, "opacity": 1, "color": "#111111", "strokeWidth": 0}},
       {"transform": [{"filter": "datum.str == '-'"}], "mark": {"type": "text", "align": "right", "dx": -29, "dy": -25, "fontSize": 13.5}, "encoding": {"text": {"field": "g"}}},
       {"transform": [{"filter": "datum.str == '+'"}], "mark": {"type": "text", "align": "left", "dx": 29, "dy": -25, "fontSize": 13.5}, "encoding": {"text": {"field": "g"}}}
      ]},
     {"data": {"name": "zfp42"}, "transform": [{"filter": {"field": "t", "oneOf": ["Oct4","Sox2","Nanog","K27","K4"]}}], "facet": {"row": {"field": "t", "type": "nominal", "sort": ["Oct4","Sox2","Nanog","K27","K4"], "header": null}}, "spacing": 0,
      "spec": {"width": 157, "height": 31, "view": {"fill": "#ffffff", "stroke": null}, "mark": {"type": "area", "interpolate": "step-after"}, "encoding": {"x": {"field": "x", "type": "quantitative", "scale": {"domain": [0, 100], "nice": false, "zero": false}}, "y": {"field": "v", "type": "quantitative", "stack": null, "scale": {"domain": [0, 1], "nice": false, "zero": false}}, "color": {"field": "t", "type": "nominal", "scale": {"domain": ["Oct4","Sox2","Nanog","K27","K4","E","Ep","N","M"], "range": ["#f02ab4","#f5873a","#3aa532","#e8252a","#40a526","#0a22b8","#0a22b8","#0a22b8","#0a22b8"]}, "legend": null}}}},
     {"data": {"name": "zfp42"}, "transform": [{"filter": {"field": "t", "oneOf": ["E","Ep","N","M"]}}], "facet": {"row": {"field": "t", "type": "nominal", "sort": ["E","Ep","N","M"], "header": null}}, "spacing": 0,
      "spec": {"width": 157, "height": 62, "view": {"fill": "#ffffff", "stroke": null}, "layer": [
       {"transform": [{"filter": "datum.b != 1"}], "mark": {"type": "area", "interpolate": "step-after"}, "encoding": {"x": {"field": "x", "type": "quantitative", "scale": {"domain": [0, 100], "nice": false, "zero": false}}, "y": {"field": "v", "type": "quantitative", "stack": null, "scale": {"domain": [0, 1], "nice": false, "zero": false}}, "color": {"field": "t", "type": "nominal", "scale": {"domain": ["Oct4","Sox2","Nanog","K27","K4","E","Ep","N","M"], "range": ["#f02ab4","#f5873a","#3aa532","#e8252a","#40a526","#0a22b8","#0a22b8","#0a22b8","#0a22b8"]}, "legend": null}}},
       {"transform": [{"filter": "datum.b == 1"}], "mark": {"type": "rule", "color": "#8c8cf0", "strokeWidth": 1.5}, "encoding": {"y": {"datum": 0, "type": "quantitative", "scale": {"domain": [0, 1], "nice": false, "zero": false}}}}
      ]}}
    ], "spacing": 0},
    {"vconcat": [
     {"width": 153, "height": 40, "data": {"name": "genes"}, "transform": [{"filter": "datum.g == 'tcfcp2l'"}],
      "encoding": {"x": {"field": "tss", "type": "quantitative", "scale": {"domain": [0, 100], "nice": false, "zero": false}}, "y": {"datum": 0, "type": "quantitative", "scale": {"domain": [0, 1], "nice": false, "zero": false}}},
      "layer": [
       {"mark": {"type": "rule", "strokeWidth": 3, "color": "#111111"}, "encoding": {"x2": {"field": "far"}}},
       {"transform": [{"filter": "datum.str == '-'"}], "mark": {"type": "point", "shape": "M0.06,0.06L0.06,-1.26L-0.72,-1.26L-0.72,-1.14L-0.06,-1.14L-0.06,0.06ZM-0.7,-1.47L-1.08,-1.2L-0.7,-0.93Z", "size": 2304, "filled": true, "opacity": 1, "color": "#111111", "strokeWidth": 0}},
       {"transform": [{"filter": "datum.str == '+'"}], "mark": {"type": "point", "shape": "M-0.06,0.06L-0.06,-1.26L0.72,-1.26L0.72,-1.14L0.06,-1.14L0.06,0.06ZM0.7,-1.47L1.08,-1.2L0.7,-0.93Z", "size": 2304, "filled": true, "opacity": 1, "color": "#111111", "strokeWidth": 0}},
       {"transform": [{"filter": "datum.str == '-'"}], "mark": {"type": "text", "align": "right", "dx": -29, "dy": -25, "fontSize": 13.5}, "encoding": {"text": {"field": "g"}}},
       {"transform": [{"filter": "datum.str == '+'"}], "mark": {"type": "text", "align": "left", "dx": 29, "dy": -25, "fontSize": 13.5}, "encoding": {"text": {"field": "g"}}}
      ]},
     {"data": {"name": "tcfcp2l"}, "transform": [{"filter": {"field": "t", "oneOf": ["Oct4","Sox2","Nanog","K27","K4"]}}], "facet": {"row": {"field": "t", "type": "nominal", "sort": ["Oct4","Sox2","Nanog","K27","K4"], "header": null}}, "spacing": 0,
      "spec": {"width": 153, "height": 31, "view": {"fill": "#ffffff", "stroke": null}, "mark": {"type": "area", "interpolate": "step-after"}, "encoding": {"x": {"field": "x", "type": "quantitative", "scale": {"domain": [0, 100], "nice": false, "zero": false}}, "y": {"field": "v", "type": "quantitative", "stack": null, "scale": {"domain": [0, 1], "nice": false, "zero": false}}, "color": {"field": "t", "type": "nominal", "scale": {"domain": ["Oct4","Sox2","Nanog","K27","K4","E","Ep","N","M"], "range": ["#f02ab4","#f5873a","#3aa532","#e8252a","#40a526","#0a22b8","#0a22b8","#0a22b8","#0a22b8"]}, "legend": null}}}},
     {"data": {"name": "tcfcp2l"}, "transform": [{"filter": {"field": "t", "oneOf": ["E","Ep","N","M"]}}], "facet": {"row": {"field": "t", "type": "nominal", "sort": ["E","Ep","N","M"], "header": null}}, "spacing": 0,
      "spec": {"width": 153, "height": 62, "view": {"fill": "#ffffff", "stroke": null}, "layer": [
       {"transform": [{"filter": "datum.b != 1"}], "mark": {"type": "area", "interpolate": "step-after"}, "encoding": {"x": {"field": "x", "type": "quantitative", "scale": {"domain": [0, 100], "nice": false, "zero": false}}, "y": {"field": "v", "type": "quantitative", "stack": null, "scale": {"domain": [0, 1], "nice": false, "zero": false}}, "color": {"field": "t", "type": "nominal", "scale": {"domain": ["Oct4","Sox2","Nanog","K27","K4","E","Ep","N","M"], "range": ["#f02ab4","#f5873a","#3aa532","#e8252a","#40a526","#0a22b8","#0a22b8","#0a22b8","#0a22b8"]}, "legend": null}}},
       {"transform": [{"filter": "datum.b == 1"}], "mark": {"type": "rule", "color": "#8c8cf0", "strokeWidth": 1.5}, "encoding": {"y": {"datum": 0, "type": "quantitative", "scale": {"domain": [0, 1], "nice": false, "zero": false}}}}
      ]}}
    ], "spacing": 0}
   ], "spacing": 35}
  ], "spacing": 18}
 ], "spacing": 0},
 {"vconcat": [
  {"width": 362, "height": 56, "data": {"values": [{"letter": "B", "title": "EpiSC-Specific"}]},
   "layer": [
    {"mark": {"type": "text", "fontSize": 17}, "encoding": {"x": {"datum": 1.9, "type": "quantitative", "scale": {"domain": [0, 100], "nice": false, "zero": false}}, "y": {"datum": 0.5, "type": "quantitative", "scale": {"domain": [0, 1], "nice": false, "zero": false}}, "text": {"field": "letter"}}},
    {"mark": {"type": "text", "fontSize": 18}, "encoding": {"x": {"datum": 49.2, "type": "quantitative", "scale": {"domain": [0, 100], "nice": false, "zero": false}}, "y": {"datum": 0.41, "type": "quantitative", "scale": {"domain": [0, 1], "nice": false, "zero": false}}, "text": {"field": "title"}}},
    {"mark": {"type": "rule", "strokeWidth": 2, "color": "#111111"}, "encoding": {"x": {"datum": 18.2, "type": "quantitative", "scale": {"domain": [0, 100], "nice": false, "zero": false}}, "x2": {"datum": 80.4}, "y": {"datum": 0.16, "type": "quantitative", "scale": {"domain": [0, 1], "nice": false, "zero": false}}}}
   ]},
  {"hconcat": [
   {"width": 30, "height": 40, "data": {"values": [{}]}, "mark": {"type": "text", "text": ""}},
   {"hconcat": [
    {"vconcat": [
     {"width": 146, "height": 40, "data": {"name": "genes"}, "transform": [{"filter": "datum.g == 'Fgf5'"}],
      "encoding": {"x": {"field": "tss", "type": "quantitative", "scale": {"domain": [0, 100], "nice": false, "zero": false}}, "y": {"datum": 0, "type": "quantitative", "scale": {"domain": [-0.275, 0.725], "nice": false, "zero": false}}},
      "layer": [
       {"mark": {"type": "rule", "strokeWidth": 3, "color": "#111111"}, "encoding": {"x2": {"field": "far"}}},
       {"transform": [{"filter": "datum.str == '-'"}], "mark": {"type": "point", "shape": "M0.06,0.06L0.06,-1.26L-0.72,-1.26L-0.72,-1.14L-0.06,-1.14L-0.06,0.06ZM-0.7,-1.47L-1.08,-1.2L-0.7,-0.93Z", "size": 2304, "filled": true, "opacity": 1, "color": "#111111", "strokeWidth": 0}},
       {"transform": [{"filter": "datum.str == '+'"}], "mark": {"type": "point", "shape": "M-0.06,0.06L-0.06,-1.26L0.72,-1.26L0.72,-1.14L0.06,-1.14L0.06,0.06ZM0.7,-1.47L1.08,-1.2L0.7,-0.93Z", "size": 2304, "filled": true, "opacity": 1, "color": "#111111", "strokeWidth": 0}},
       {"transform": [{"filter": "datum.str == '-'"}], "mark": {"type": "text", "align": "right", "dx": -29, "dy": -25, "fontSize": 13.5}, "encoding": {"text": {"field": "g"}}},
       {"transform": [{"filter": "datum.str == '+'"}], "mark": {"type": "text", "align": "left", "dx": 29, "dy": -25, "fontSize": 13.5}, "encoding": {"text": {"field": "g"}}}
      ]},
     {"data": {"name": "Fgf5"}, "transform": [{"filter": {"field": "t", "oneOf": ["Oct4","Sox2","Nanog","K27","K4"]}}], "facet": {"row": {"field": "t", "type": "nominal", "sort": ["Oct4","Sox2","Nanog","K27","K4"], "header": null}}, "spacing": 0,
      "spec": {"width": 146, "height": 31, "view": {"fill": "#ffffff", "stroke": null}, "mark": {"type": "area", "interpolate": "step-after"}, "encoding": {"x": {"field": "x", "type": "quantitative", "scale": {"domain": [0, 100], "nice": false, "zero": false}}, "y": {"field": "v", "type": "quantitative", "stack": null, "scale": {"domain": [0, 1], "nice": false, "zero": false}}, "color": {"field": "t", "type": "nominal", "scale": {"domain": ["Oct4","Sox2","Nanog","K27","K4","E","Ep","N","M"], "range": ["#f02ab4","#f5873a","#3aa532","#e8252a","#40a526","#0a22b8","#0a22b8","#0a22b8","#0a22b8"]}, "legend": null}}}},
     {"data": {"name": "Fgf5"}, "transform": [{"filter": {"field": "t", "oneOf": ["E","Ep","N","M"]}}], "facet": {"row": {"field": "t", "type": "nominal", "sort": ["E","Ep","N","M"], "header": null}}, "spacing": 0,
      "spec": {"width": 136, "height": 62, "view": {"fill": "#ffffff", "stroke": null}, "layer": [
       {"transform": [{"filter": "datum.b != 1"}], "mark": {"type": "area", "interpolate": "step-after"}, "encoding": {"x": {"field": "x", "type": "quantitative", "scale": {"domain": [0, 100], "nice": false, "zero": false}}, "y": {"field": "v", "type": "quantitative", "stack": null, "scale": {"domain": [0, 1], "nice": false, "zero": false}}, "color": {"field": "t", "type": "nominal", "scale": {"domain": ["Oct4","Sox2","Nanog","K27","K4","E","Ep","N","M"], "range": ["#f02ab4","#f5873a","#3aa532","#e8252a","#40a526","#0a22b8","#0a22b8","#0a22b8","#0a22b8"]}, "legend": null}}},
       {"transform": [{"filter": "datum.b == 1"}], "mark": {"type": "rule", "color": "#8c8cf0", "strokeWidth": 1.5}, "encoding": {"y": {"datum": 0, "type": "quantitative", "scale": {"domain": [0, 1], "nice": false, "zero": false}}}}
      ]}}
    ], "spacing": 0},
    {"vconcat": [
     {"width": 156, "height": 40, "data": {"name": "genes"}, "transform": [{"filter": "datum.g == 'Shisa6'"}],
      "encoding": {"x": {"field": "tss", "type": "quantitative", "scale": {"domain": [0, 100], "nice": false, "zero": false}}, "y": {"datum": 0, "type": "quantitative", "scale": {"domain": [-0.275, 0.725], "nice": false, "zero": false}}},
      "layer": [
       {"mark": {"type": "rule", "strokeWidth": 3, "color": "#111111"}, "encoding": {"x2": {"field": "far"}}},
       {"transform": [{"filter": "datum.str == '-'"}], "mark": {"type": "point", "shape": "M0.06,0.06L0.06,-1.26L-0.72,-1.26L-0.72,-1.14L-0.06,-1.14L-0.06,0.06ZM-0.7,-1.47L-1.08,-1.2L-0.7,-0.93Z", "size": 2304, "filled": true, "opacity": 1, "color": "#111111", "strokeWidth": 0}},
       {"transform": [{"filter": "datum.str == '+'"}], "mark": {"type": "point", "shape": "M-0.06,0.06L-0.06,-1.26L0.72,-1.26L0.72,-1.14L0.06,-1.14L0.06,0.06ZM0.7,-1.47L1.08,-1.2L0.7,-0.93Z", "size": 2304, "filled": true, "opacity": 1, "color": "#111111", "strokeWidth": 0}},
       {"transform": [{"filter": "datum.str == '-'"}], "mark": {"type": "text", "align": "right", "dx": -29, "dy": -25, "fontSize": 13.5}, "encoding": {"text": {"field": "g"}}},
       {"transform": [{"filter": "datum.str == '+'"}], "mark": {"type": "text", "align": "left", "dx": 29, "dy": -25, "fontSize": 13.5}, "encoding": {"text": {"field": "g"}}}
      ]},
     {"data": {"name": "Shisa6"}, "transform": [{"filter": {"field": "t", "oneOf": ["Oct4","Sox2","Nanog","K27","K4"]}}], "facet": {"row": {"field": "t", "type": "nominal", "sort": ["Oct4","Sox2","Nanog","K27","K4"], "header": null}}, "spacing": 0,
      "spec": {"width": 156, "height": 31, "view": {"fill": "#ffffff", "stroke": null}, "mark": {"type": "area", "interpolate": "step-after"}, "encoding": {"x": {"field": "x", "type": "quantitative", "scale": {"domain": [0, 100], "nice": false, "zero": false}}, "y": {"field": "v", "type": "quantitative", "stack": null, "scale": {"domain": [0, 1], "nice": false, "zero": false}}, "color": {"field": "t", "type": "nominal", "scale": {"domain": ["Oct4","Sox2","Nanog","K27","K4","E","Ep","N","M"], "range": ["#f02ab4","#f5873a","#3aa532","#e8252a","#40a526","#0a22b8","#0a22b8","#0a22b8","#0a22b8"]}, "legend": null}}}},
     {"data": {"name": "Shisa6"}, "transform": [{"filter": {"field": "t", "oneOf": ["E","Ep","N","M"]}}], "facet": {"row": {"field": "t", "type": "nominal", "sort": ["E","Ep","N","M"], "header": null}}, "spacing": 0,
      "spec": {"width": 156, "height": 62, "view": {"fill": "#ffffff", "stroke": null}, "layer": [
       {"transform": [{"filter": "datum.b != 1"}], "mark": {"type": "area", "interpolate": "step-after"}, "encoding": {"x": {"field": "x", "type": "quantitative", "scale": {"domain": [0, 100], "nice": false, "zero": false}}, "y": {"field": "v", "type": "quantitative", "stack": null, "scale": {"domain": [0, 1], "nice": false, "zero": false}}, "color": {"field": "t", "type": "nominal", "scale": {"domain": ["Oct4","Sox2","Nanog","K27","K4","E","Ep","N","M"], "range": ["#f02ab4","#f5873a","#3aa532","#e8252a","#40a526","#0a22b8","#0a22b8","#0a22b8","#0a22b8"]}, "legend": null}}},
       {"transform": [{"filter": "datum.b == 1"}], "mark": {"type": "rule", "color": "#8c8cf0", "strokeWidth": 1.5}, "encoding": {"y": {"datum": 0, "type": "quantitative", "scale": {"domain": [0, 1], "nice": false, "zero": false}}}}
      ]}}
    ], "spacing": 0}
   ], "spacing": 30}
  ], "spacing": 0}
 ], "spacing": 0}
], "spacing": 14},
{"hconcat": [
 {"vconcat": [
  {"width": 463, "height": 71, "data": {"values": [{"letter": "C", "title": "Ubiquitous"}]},
   "layer": [
    {"mark": {"type": "text", "fontSize": 17}, "encoding": {"x": {"datum": 21.2, "type": "quantitative", "scale": {"domain": [0, 100], "nice": false, "zero": false}}, "y": {"datum": 0.51, "type": "quantitative", "scale": {"domain": [0, 1], "nice": false, "zero": false}}, "text": {"field": "letter"}}},
    {"mark": {"type": "text", "fontSize": 18}, "encoding": {"x": {"datum": 66.5, "type": "quantitative", "scale": {"domain": [0, 100], "nice": false, "zero": false}}, "y": {"datum": 0.225, "type": "quantitative", "scale": {"domain": [0, 1], "nice": false, "zero": false}}, "text": {"field": "title"}}},
    {"mark": {"type": "rule", "strokeWidth": 2, "color": "#111111"}, "encoding": {"x": {"datum": 42.8, "type": "quantitative", "scale": {"domain": [0, 100], "nice": false, "zero": false}}, "x2": {"datum": 91.1}, "y": {"datum": 0.042, "type": "quantitative", "scale": {"domain": [0, 1], "nice": false, "zero": false}}}}
   ]},
  {"hconcat": [
   {"vconcat": [
    {"width": 113, "height": 40, "data": {"values": [{}]}, "mark": {"type": "text", "text": ""}},
    {"width": 113, "height": 155, "data": {"name": "labels"}, "transform": [{"filter": "datum.grp == 'chip'"}], "mark": {"type": "text", "align": "right", "dy": 7, "fontSize": 11.5}, "encoding": {"x": {"datum": 1, "type": "quantitative", "scale": {"domain": [0, 1], "nice": false, "zero": false}}, "y": {"field": "t", "type": "nominal", "sort": ["Oct4","Sox2","Nanog","K27","K4"]}, "text": {"field": "name"}, "fill": {"field": "t", "type": "nominal", "scale": {"domain": ["Oct4","Sox2","Nanog","K27","K4","E","Ep","N","M"], "range": ["#e040c8","#f5a623","#1e7b34","#e8202a","#2a8a2a","#1f35a8","#1f35a8","#1f35a8","#1f35a8"]}, "legend": null}}},
    {"width": 113, "height": 248, "data": {"name": "labels"}, "transform": [{"filter": "datum.grp == 'faire'"}], "mark": {"type": "text", "align": "right", "dy": 23, "fontSize": 11.5}, "encoding": {"x": {"datum": 1, "type": "quantitative", "scale": {"domain": [0, 1], "nice": false, "zero": false}}, "y": {"field": "t", "type": "nominal", "sort": ["E","Ep","N","M"]}, "text": {"field": "name"}, "fill": {"field": "t", "type": "nominal", "scale": {"domain": ["Oct4","Sox2","Nanog","K27","K4","E","Ep","N","M"], "range": ["#e040c8","#f5a623","#1e7b34","#e8202a","#2a8a2a","#1f35a8","#1f35a8","#1f35a8","#1f35a8"]}, "legend": null}}}
   ], "spacing": 0},
   {"hconcat": [
    {"vconcat": [
     {"width": 159, "height": 40, "data": {"name": "genes"}, "transform": [{"filter": "datum.g == 'Ef4a'"}],
      "encoding": {"x": {"field": "tss", "type": "quantitative", "scale": {"domain": [0, 100], "nice": false, "zero": false}}, "y": {"datum": 0, "type": "quantitative", "scale": {"domain": [-0.125, 0.875], "nice": false, "zero": false}}},
      "layer": [
       {"mark": {"type": "rule", "strokeWidth": 3, "color": "#111111"}, "encoding": {"x2": {"field": "far"}}},
       {"transform": [{"filter": "datum.str == '-'"}], "mark": {"type": "point", "shape": "M0.06,0.06L0.06,-1.26L-0.72,-1.26L-0.72,-1.14L-0.06,-1.14L-0.06,0.06ZM-0.7,-1.47L-1.08,-1.2L-0.7,-0.93Z", "size": 2304, "filled": true, "opacity": 1, "color": "#111111", "strokeWidth": 0}},
       {"transform": [{"filter": "datum.str == '+'"}], "mark": {"type": "point", "shape": "M-0.06,0.06L-0.06,-1.26L0.72,-1.26L0.72,-1.14L0.06,-1.14L0.06,0.06ZM0.7,-1.47L1.08,-1.2L0.7,-0.93Z", "size": 2304, "filled": true, "opacity": 1, "color": "#111111", "strokeWidth": 0}},
       {"transform": [{"filter": "datum.str == '-'"}], "mark": {"type": "text", "align": "right", "dx": -29, "dy": -25, "fontSize": 13.5}, "encoding": {"text": {"field": "g"}}},
       {"transform": [{"filter": "datum.str == '+'"}], "mark": {"type": "text", "align": "left", "dx": 29, "dy": -25, "fontSize": 13.5}, "encoding": {"text": {"field": "g"}}}
      ]},
     {"data": {"name": "Ef4a"}, "transform": [{"filter": {"field": "t", "oneOf": ["Oct4","Sox2","Nanog","K27","K4"]}}], "facet": {"row": {"field": "t", "type": "nominal", "sort": ["Oct4","Sox2","Nanog","K27","K4"], "header": null}}, "spacing": 0,
      "spec": {"width": 159, "height": 31, "view": {"fill": "#ffffff", "stroke": null}, "mark": {"type": "area", "interpolate": "step-after"}, "encoding": {"x": {"field": "x", "type": "quantitative", "scale": {"domain": [0, 100], "nice": false, "zero": false}}, "y": {"field": "v", "type": "quantitative", "stack": null, "scale": {"domain": [0, 1], "nice": false, "zero": false}}, "color": {"field": "t", "type": "nominal", "scale": {"domain": ["Oct4","Sox2","Nanog","K27","K4","E","Ep","N","M"], "range": ["#f02ab4","#f5873a","#3aa532","#e8252a","#40a526","#0a22b8","#0a22b8","#0a22b8","#0a22b8"]}, "legend": null}}}},
     {"data": {"name": "Ef4a"}, "transform": [{"filter": {"field": "t", "oneOf": ["E","Ep","N","M"]}}], "facet": {"row": {"field": "t", "type": "nominal", "sort": ["E","Ep","N","M"], "header": null}}, "spacing": 0,
      "spec": {"width": 159, "height": 62, "view": {"fill": "#ffffff", "stroke": null}, "layer": [
       {"transform": [{"filter": "datum.b != 1"}], "mark": {"type": "area", "interpolate": "step-after"}, "encoding": {"x": {"field": "x", "type": "quantitative", "scale": {"domain": [0, 100], "nice": false, "zero": false}}, "y": {"field": "v", "type": "quantitative", "stack": null, "scale": {"domain": [0, 1], "nice": false, "zero": false}}, "color": {"field": "t", "type": "nominal", "scale": {"domain": ["Oct4","Sox2","Nanog","K27","K4","E","Ep","N","M"], "range": ["#f02ab4","#f5873a","#3aa532","#e8252a","#40a526","#0a22b8","#0a22b8","#0a22b8","#0a22b8"]}, "legend": null}}},
       {"transform": [{"filter": "datum.b == 1"}], "mark": {"type": "rule", "color": "#8c8cf0", "strokeWidth": 1.5}, "encoding": {"y": {"datum": 0, "type": "quantitative", "scale": {"domain": [0, 1], "nice": false, "zero": false}}}}
      ]}}
    ], "spacing": 0},
    {"vconcat": [
     {"width": 138, "height": 40, "data": {"name": "genes"}, "transform": [{"filter": "datum.g == 'Tubb5'"}],
      "encoding": {"x": {"field": "tss", "type": "quantitative", "scale": {"domain": [0, 100], "nice": false, "zero": false}}, "y": {"datum": 0, "type": "quantitative", "scale": {"domain": [-0.125, 0.875], "nice": false, "zero": false}}},
      "layer": [
       {"mark": {"type": "rule", "strokeWidth": 3, "color": "#111111"}, "encoding": {"x2": {"field": "far"}}},
       {"transform": [{"filter": "datum.str == '-'"}], "mark": {"type": "point", "shape": "M0.06,0.06L0.06,-1.26L-0.72,-1.26L-0.72,-1.14L-0.06,-1.14L-0.06,0.06ZM-0.7,-1.47L-1.08,-1.2L-0.7,-0.93Z", "size": 2304, "filled": true, "opacity": 1, "color": "#111111", "strokeWidth": 0}},
       {"transform": [{"filter": "datum.str == '+'"}], "mark": {"type": "point", "shape": "M-0.06,0.06L-0.06,-1.26L0.72,-1.26L0.72,-1.14L0.06,-1.14L0.06,0.06ZM0.7,-1.47L1.08,-1.2L0.7,-0.93Z", "size": 2304, "filled": true, "opacity": 1, "color": "#111111", "strokeWidth": 0}},
       {"transform": [{"filter": "datum.str == '-'"}], "mark": {"type": "text", "align": "right", "dx": -29, "dy": -25, "fontSize": 13.5}, "encoding": {"text": {"field": "g"}}},
       {"transform": [{"filter": "datum.str == '+'"}], "mark": {"type": "text", "align": "left", "dx": 29, "dy": -25, "fontSize": 13.5}, "encoding": {"text": {"field": "g"}}}
      ]},
     {"data": {"name": "Tubb5"}, "transform": [{"filter": {"field": "t", "oneOf": ["Oct4","Sox2","Nanog","K27","K4"]}}], "facet": {"row": {"field": "t", "type": "nominal", "sort": ["Oct4","Sox2","Nanog","K27","K4"], "header": null}}, "spacing": 0,
      "spec": {"width": 138, "height": 31, "view": {"fill": "#ffffff", "stroke": null}, "mark": {"type": "area", "interpolate": "step-after"}, "encoding": {"x": {"field": "x", "type": "quantitative", "scale": {"domain": [0, 100], "nice": false, "zero": false}}, "y": {"field": "v", "type": "quantitative", "stack": null, "scale": {"domain": [0, 1], "nice": false, "zero": false}}, "color": {"field": "t", "type": "nominal", "scale": {"domain": ["Oct4","Sox2","Nanog","K27","K4","E","Ep","N","M"], "range": ["#f02ab4","#f5873a","#3aa532","#e8252a","#40a526","#0a22b8","#0a22b8","#0a22b8","#0a22b8"]}, "legend": null}}}},
     {"data": {"name": "Tubb5"}, "transform": [{"filter": {"field": "t", "oneOf": ["E","Ep","N","M"]}}], "facet": {"row": {"field": "t", "type": "nominal", "sort": ["E","Ep","N","M"], "header": null}}, "spacing": 0,
      "spec": {"width": 138, "height": 62, "view": {"fill": "#ffffff", "stroke": null}, "layer": [
       {"transform": [{"filter": "datum.b != 1"}], "mark": {"type": "area", "interpolate": "step-after"}, "encoding": {"x": {"field": "x", "type": "quantitative", "scale": {"domain": [0, 100], "nice": false, "zero": false}}, "y": {"field": "v", "type": "quantitative", "stack": null, "scale": {"domain": [0, 1], "nice": false, "zero": false}}, "color": {"field": "t", "type": "nominal", "scale": {"domain": ["Oct4","Sox2","Nanog","K27","K4","E","Ep","N","M"], "range": ["#f02ab4","#f5873a","#3aa532","#e8252a","#40a526","#0a22b8","#0a22b8","#0a22b8","#0a22b8"]}, "legend": null}}},
       {"transform": [{"filter": "datum.b == 1"}], "mark": {"type": "rule", "color": "#8c8cf0", "strokeWidth": 1.5}, "encoding": {"y": {"datum": 0, "type": "quantitative", "scale": {"domain": [0, 1], "nice": false, "zero": false}}}}
      ]}}
    ], "spacing": 0}
   ], "spacing": 33}
  ], "spacing": 20}
 ], "spacing": 0},
 {"vconcat": [
  {"width": 388, "height": 71, "data": {"values": [{"letter": "D", "title": "XEN-Specific"}]},
   "layer": [
    {"mark": {"type": "text", "fontSize": 17}, "encoding": {"x": {"datum": 1.6, "type": "quantitative", "scale": {"domain": [0, 100], "nice": false, "zero": false}}, "y": {"datum": 0.51, "type": "quantitative", "scale": {"domain": [0, 1], "nice": false, "zero": false}}, "text": {"field": "letter"}}},
    {"mark": {"type": "text", "fontSize": 18}, "encoding": {"x": {"datum": 48.2, "type": "quantitative", "scale": {"domain": [0, 100], "nice": false, "zero": false}}, "y": {"datum": 0.225, "type": "quantitative", "scale": {"domain": [0, 1], "nice": false, "zero": false}}, "text": {"field": "title"}}},
    {"mark": {"type": "rule", "strokeWidth": 2, "color": "#111111"}, "encoding": {"x": {"datum": 19.1, "type": "quantitative", "scale": {"domain": [0, 100], "nice": false, "zero": false}}, "x2": {"datum": 77.1}, "y": {"datum": 0.042, "type": "quantitative", "scale": {"domain": [0, 1], "nice": false, "zero": false}}}}
   ]},
  {"hconcat": [
   {"width": 16, "height": 40, "data": {"values": [{}]}, "mark": {"type": "text", "text": ""}},
   {"hconcat": [
    {"vconcat": [
     {"width": 166, "height": 40, "data": {"name": "genes"}, "transform": [{"filter": "datum.g == 'Emp2'"}],
      "encoding": {"x": {"field": "tss", "type": "quantitative", "scale": {"domain": [0, 100], "nice": false, "zero": false}}, "y": {"datum": 0, "type": "quantitative", "scale": {"domain": [-0.1, 0.9], "nice": false, "zero": false}}},
      "layer": [
       {"mark": {"type": "rule", "strokeWidth": 3, "color": "#111111"}, "encoding": {"x2": {"field": "far"}}},
       {"transform": [{"filter": "datum.str == '-'"}], "mark": {"type": "point", "shape": "M0.06,0.06L0.06,-1.26L-0.72,-1.26L-0.72,-1.14L-0.06,-1.14L-0.06,0.06ZM-0.7,-1.47L-1.08,-1.2L-0.7,-0.93Z", "size": 2304, "filled": true, "opacity": 1, "color": "#111111", "strokeWidth": 0}},
       {"transform": [{"filter": "datum.str == '+'"}], "mark": {"type": "point", "shape": "M-0.06,0.06L-0.06,-1.26L0.72,-1.26L0.72,-1.14L0.06,-1.14L0.06,0.06ZM0.7,-1.47L1.08,-1.2L0.7,-0.93Z", "size": 2304, "filled": true, "opacity": 1, "color": "#111111", "strokeWidth": 0}},
       {"transform": [{"filter": "datum.str == '-'"}], "mark": {"type": "text", "align": "right", "dx": -29, "dy": -25, "fontSize": 13.5}, "encoding": {"text": {"field": "g"}}},
       {"transform": [{"filter": "datum.str == '+'"}], "mark": {"type": "text", "align": "left", "dx": 29, "dy": -25, "fontSize": 13.5}, "encoding": {"text": {"field": "g"}}}
      ]},
     {"data": {"name": "Emp2"}, "transform": [{"filter": {"field": "t", "oneOf": ["Oct4","Sox2","Nanog","K27","K4"]}}], "facet": {"row": {"field": "t", "type": "nominal", "sort": ["Oct4","Sox2","Nanog","K27","K4"], "header": null}}, "spacing": 0,
      "spec": {"width": 166, "height": 31, "view": {"fill": "#ffffff", "stroke": null}, "mark": {"type": "area", "interpolate": "step-after"}, "encoding": {"x": {"field": "x", "type": "quantitative", "scale": {"domain": [0, 100], "nice": false, "zero": false}}, "y": {"field": "v", "type": "quantitative", "stack": null, "scale": {"domain": [0, 1], "nice": false, "zero": false}}, "color": {"field": "t", "type": "nominal", "scale": {"domain": ["Oct4","Sox2","Nanog","K27","K4","E","Ep","N","M"], "range": ["#f02ab4","#f5873a","#3aa532","#e8252a","#40a526","#0a22b8","#0a22b8","#0a22b8","#0a22b8"]}, "legend": null}}}},
     {"data": {"name": "Emp2"}, "transform": [{"filter": {"field": "t", "oneOf": ["E","Ep","N","M"]}}], "facet": {"row": {"field": "t", "type": "nominal", "sort": ["E","Ep","N","M"], "header": null}}, "spacing": 0,
      "spec": {"width": 166, "height": 62, "view": {"fill": "#ffffff", "stroke": null}, "layer": [
       {"transform": [{"filter": "datum.b != 1"}], "mark": {"type": "area", "interpolate": "step-after"}, "encoding": {"x": {"field": "x", "type": "quantitative", "scale": {"domain": [0, 100], "nice": false, "zero": false}}, "y": {"field": "v", "type": "quantitative", "stack": null, "scale": {"domain": [0, 1], "nice": false, "zero": false}}, "color": {"field": "t", "type": "nominal", "scale": {"domain": ["Oct4","Sox2","Nanog","K27","K4","E","Ep","N","M"], "range": ["#f02ab4","#f5873a","#3aa532","#e8252a","#40a526","#0a22b8","#0a22b8","#0a22b8","#0a22b8"]}, "legend": null}}},
       {"transform": [{"filter": "datum.b == 1"}], "mark": {"type": "rule", "color": "#8c8cf0", "strokeWidth": 1.5}, "encoding": {"y": {"datum": 0, "type": "quantitative", "scale": {"domain": [0, 1], "nice": false, "zero": false}}}}
      ]}}
    ], "spacing": 0},
    {"vconcat": [
     {"width": 168, "height": 40, "data": {"name": "genes"}, "transform": [{"filter": "datum.g == 'Amn'"}],
      "encoding": {"x": {"field": "tss", "type": "quantitative", "scale": {"domain": [0, 100], "nice": false, "zero": false}}, "y": {"datum": 0, "type": "quantitative", "scale": {"domain": [-0.1, 0.9], "nice": false, "zero": false}}},
      "layer": [
       {"mark": {"type": "rule", "strokeWidth": 3, "color": "#111111"}, "encoding": {"x2": {"field": "far"}}},
       {"transform": [{"filter": "datum.str == '-'"}], "mark": {"type": "point", "shape": "M0.06,0.06L0.06,-1.26L-0.72,-1.26L-0.72,-1.14L-0.06,-1.14L-0.06,0.06ZM-0.7,-1.47L-1.08,-1.2L-0.7,-0.93Z", "size": 2304, "filled": true, "opacity": 1, "color": "#111111", "strokeWidth": 0}},
       {"transform": [{"filter": "datum.str == '+'"}], "mark": {"type": "point", "shape": "M-0.06,0.06L-0.06,-1.26L0.72,-1.26L0.72,-1.14L0.06,-1.14L0.06,0.06ZM0.7,-1.47L1.08,-1.2L0.7,-0.93Z", "size": 2304, "filled": true, "opacity": 1, "color": "#111111", "strokeWidth": 0}},
       {"transform": [{"filter": "datum.str == '-'"}], "mark": {"type": "text", "align": "right", "dx": -29, "dy": -25, "fontSize": 13.5}, "encoding": {"text": {"field": "g"}}},
       {"transform": [{"filter": "datum.str == '+'"}], "mark": {"type": "text", "align": "left", "dx": 29, "dy": -25, "fontSize": 13.5}, "encoding": {"text": {"field": "g"}}}
      ]},
     {"data": {"name": "Amn"}, "transform": [{"filter": {"field": "t", "oneOf": ["Oct4","Sox2","Nanog","K27","K4"]}}], "facet": {"row": {"field": "t", "type": "nominal", "sort": ["Oct4","Sox2","Nanog","K27","K4"], "header": null}}, "spacing": 0,
      "spec": {"width": 168, "height": 31, "view": {"fill": "#ffffff", "stroke": null}, "mark": {"type": "area", "interpolate": "step-after"}, "encoding": {"x": {"field": "x", "type": "quantitative", "scale": {"domain": [0, 100], "nice": false, "zero": false}}, "y": {"field": "v", "type": "quantitative", "stack": null, "scale": {"domain": [0, 1], "nice": false, "zero": false}}, "color": {"field": "t", "type": "nominal", "scale": {"domain": ["Oct4","Sox2","Nanog","K27","K4","E","Ep","N","M"], "range": ["#f02ab4","#f5873a","#3aa532","#e8252a","#40a526","#0a22b8","#0a22b8","#0a22b8","#0a22b8"]}, "legend": null}}}},
     {"data": {"name": "Amn"}, "transform": [{"filter": {"field": "t", "oneOf": ["E","Ep","N","M"]}}], "facet": {"row": {"field": "t", "type": "nominal", "sort": ["E","Ep","N","M"], "header": null}}, "spacing": 0,
      "spec": {"width": 168, "height": 62, "view": {"fill": "#ffffff", "stroke": null}, "layer": [
       {"transform": [{"filter": "datum.b != 1"}], "mark": {"type": "area", "interpolate": "step-after"}, "encoding": {"x": {"field": "x", "type": "quantitative", "scale": {"domain": [0, 100], "nice": false, "zero": false}}, "y": {"field": "v", "type": "quantitative", "stack": null, "scale": {"domain": [0, 1], "nice": false, "zero": false}}, "color": {"field": "t", "type": "nominal", "scale": {"domain": ["Oct4","Sox2","Nanog","K27","K4","E","Ep","N","M"], "range": ["#f02ab4","#f5873a","#3aa532","#e8252a","#40a526","#0a22b8","#0a22b8","#0a22b8","#0a22b8"]}, "legend": null}}},
       {"transform": [{"filter": "datum.b == 1"}], "mark": {"type": "rule", "color": "#8c8cf0", "strokeWidth": 1.5}, "encoding": {"y": {"datum": 0, "type": "quantitative", "scale": {"domain": [0, 1], "nice": false, "zero": false}}}}
      ]}}
    ], "spacing": 0}
   ], "spacing": 38}
  ], "spacing": 0}
 ], "spacing": 0}
], "spacing": 7}
],
"spacing": 11
}
